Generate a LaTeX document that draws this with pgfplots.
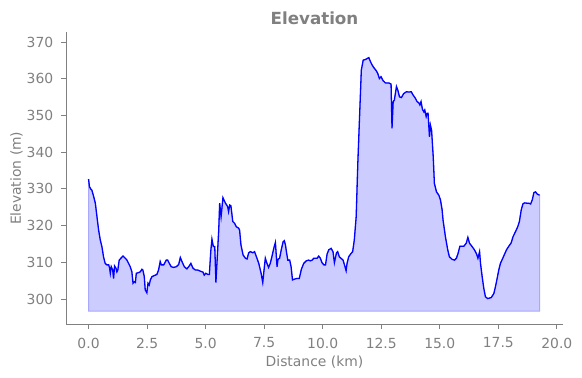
\documentclass[border=0pt]{standalone}
\usepackage{fontspec}
\setmainfont{DejaVu Sans}
\usepackage{pgfplots}
\pgfplotsset{compat=1.18}
\usepackage{pgfplotstable}
\usepgfplotslibrary{fillbetween}
\definecolor{txtgray}{HTML}{808080}

\pgfplotstableread{
d e
0.00 332.7
0.04 330.6
0.10 329.9
0.14 329.7
0.22 327.9
0.29 326.1
0.36 322.4
0.43 318.8
0.50 316.1
0.57 314.3
0.64 311.5
0.71 309.7
0.78 309.3
0.86 309.3
0.90 308.4
0.93 307.0
0.97 308.8
1.03 307.9
1.07 305.6
1.11 309.0
1.17 308.4
1.21 307.4
1.25 307.9
1.31 310.6
1.38 311.1
1.47 311.7
1.57 311.1
1.64 310.6
1.71 309.7
1.78 308.8
1.85 307.4
1.90 304.3
1.95 304.7
2.00 304.5
2.04 307.0
2.14 307.2
2.21 307.4
2.28 308.1
2.32 307.9
2.38 306.1
2.42 302.5
2.49 301.7
2.54 304.3
2.59 303.8
2.64 305.2
2.71 306.1
2.78 306.3
2.85 306.5
2.92 306.7
2.99 307.9
3.06 310.2
3.11 309.3
3.21 309.3
3.32 310.6
3.38 310.6
3.45 309.7
3.53 308.8
3.63 308.6
3.75 308.8
3.85 309.4
3.92 311.3
3.99 310.2
4.09 308.8
4.20 308.2
4.30 309.0
4.37 309.7
4.46 308.4
4.56 307.9
4.66 307.9
4.77 307.6
4.89 307.3
4.94 306.5
5.01 307.0
5.09 306.7
5.16 306.7
5.22 313.0
5.27 316.3
5.33 314.3
5.39 314.3
5.44 304.5
5.56 318.8
5.60 326.1
5.66 322.4
5.74 327.6
5.84 326.2
5.94 325.2
5.98 323.8
6.03 325.6
6.08 325.4
6.16 321.1
6.24 320.6
6.31 319.7
6.41 319.3
6.45 318.8
6.51 314.7
6.60 312.0
6.70 311.1
6.77 310.9
6.84 312.6
6.91 312.9
7.02 312.6
7.09 312.9
7.17 311.5
7.27 309.7
7.37 307.0
7.44 304.5
7.51 308.8
7.55 311.1
7.62 309.7
7.69 308.6
7.76 309.7
7.83 311.5
7.91 313.8
7.98 315.4
8.05 308.8
8.09 310.8
8.16 311.1
8.23 313.4
8.31 315.6
8.36 315.9
8.41 314.7
8.45 312.9
8.51 310.6
8.59 310.6
8.65 308.8
8.71 305.2
8.79 305.4
8.90 305.6
9.00 305.6
9.09 308.1
9.19 309.7
9.30 310.4
9.40 310.6
9.47 310.4
9.55 310.6
9.62 311.1
9.69 311.1
9.76 311.1
9.83 311.7
9.90 311.1
9.97 309.9
10.05 309.3
10.12 309.3
10.19 312.3
10.26 313.4
10.36 313.8
10.44 312.9
10.50 309.9
10.59 312.6
10.64 312.9
10.71 311.5
10.78 311.1
10.87 310.6
10.93 309.3
11.00 307.7
11.04 309.7
11.11 311.5
11.21 312.4
11.28 312.9
11.35 316.1
11.43 322.4
11.50 337.0
11.58 350.6
11.65 362.4
11.73 365.1
11.83 365.3
11.97 365.8
12.04 364.7
12.11 363.8
12.18 363.1
12.29 362.2
12.35 361.5
12.42 360.1
12.49 360.6
12.58 359.5
12.68 358.9
12.82 358.9
12.92 358.6
12.96 346.5
13.01 353.8
13.06 354.2
13.15 357.9
13.21 356.9
13.28 355.1
13.36 354.9
13.46 356.0
13.58 356.5
13.68 356.4
13.78 356.5
13.86 355.6
13.96 354.7
14.03 353.8
14.10 353.5
14.15 352.9
14.20 353.8
14.26 351.7
14.32 351.0
14.36 351.5
14.42 349.7
14.46 350.6
14.50 350.6
14.56 344.2
14.60 347.4
14.65 346.0
14.72 338.8
14.77 331.5
14.86 329.2
14.96 328.3
15.03 327.0
15.10 324.3
15.14 321.5
15.24 317.0
15.34 313.4
15.41 311.5
15.53 310.8
15.63 310.6
15.71 311.1
15.78 312.4
15.86 314.4
15.93 314.4
16.03 314.4
16.13 315.2
16.20 316.8
16.27 315.2
16.38 314.3
16.48 313.4
16.57 312.3
16.63 311.1
16.70 312.9
16.74 309.7
16.81 306.1
16.88 302.9
16.95 300.6
17.05 300.1
17.20 300.4
17.31 301.5
17.38 303.4
17.45 305.6
17.52 307.9
17.59 309.7
17.69 311.1
17.78 312.4
17.85 313.4
17.95 314.4
18.05 315.3
18.13 317.0
18.23 318.3
18.33 319.7
18.40 321.1
18.48 324.3
18.55 325.9
18.62 326.2
18.73 326.1
18.80 326.1
18.88 325.9
18.95 327.0
19.02 329.0
19.09 329.2
19.16 328.6
19.26 328.3
}\elev

\pgfplotstableread{
d e
0.00 296.7
19.26 296.7
}\base

\begin{document}
\begin{tikzpicture}
\begin{axis}[
  scale only axis,
  width=496.4bp, height=292bp,
  xmin=-0.95, xmax=20.25,
  ymin=293.1, ymax=372.7,
  axis x line*=bottom, axis y line*=left,
  axis line style={draw=txtgray, line width=0.9bp, -},
  xtick={0,2.5,...,20},
  ytick={300,310,...,370},
  tick align=outside,
  major tick length=4.9bp,
  tick style={draw=txtgray, line width=0.9bp},
  /pgf/number format/assume math mode=true,
  xticklabel={\pgfmathprintnumber[fixed,fixed zerofill,precision=1]{\tick}},
  yticklabel={\pgfmathprintnumber[fixed,precision=0]{\tick}},
  ticklabel style={font=\fontsize{13.9bp}{16bp}\selectfont, text=txtgray},
  xticklabel style={anchor=north, inner sep=0pt, yshift=-8.4bp},
  yticklabel style={anchor=east, inner sep=0pt, xshift=-8bp},
  title={\textbf{Elevation}},
  title style={at={(axis description cs:0.5,1.0079)}, anchor=base, font=\fontsize{16.7bp}{19bp}\selectfont, text=txtgray},
  xlabel={Distance (km)},
  ylabel={Elevation (m)},
  xlabel style={at={(axis description cs:0.5,-0.1428)}, anchor=base, font=\fontsize{13.9bp}{16bp}\selectfont, text=txtgray},
  ylabel style={at={(axis description cs:-0.0915,0.5)}, anchor=base, rotate=0, font=\fontsize{13.9bp}{16bp}\selectfont, text=txtgray},
  clip=false,
]
\addplot[name path=elevpath, blue, line width=1.3bp] table[x=d, y=e] {\elev};
\addplot[name path=basepath, draw=none, forget plot] table[x=d, y=e] {\base};
\addplot[fill=blue!20, draw=blue!34, line width=1bp] fill between[of=elevpath and basepath];
\end{axis}
\pgfresetboundingbox
\path[use as bounding box] (current axis.south west) ++(-66.3bp,-53.7bp) rectangle ++(582bp,378bp);
\end{tikzpicture}
\end{document}
